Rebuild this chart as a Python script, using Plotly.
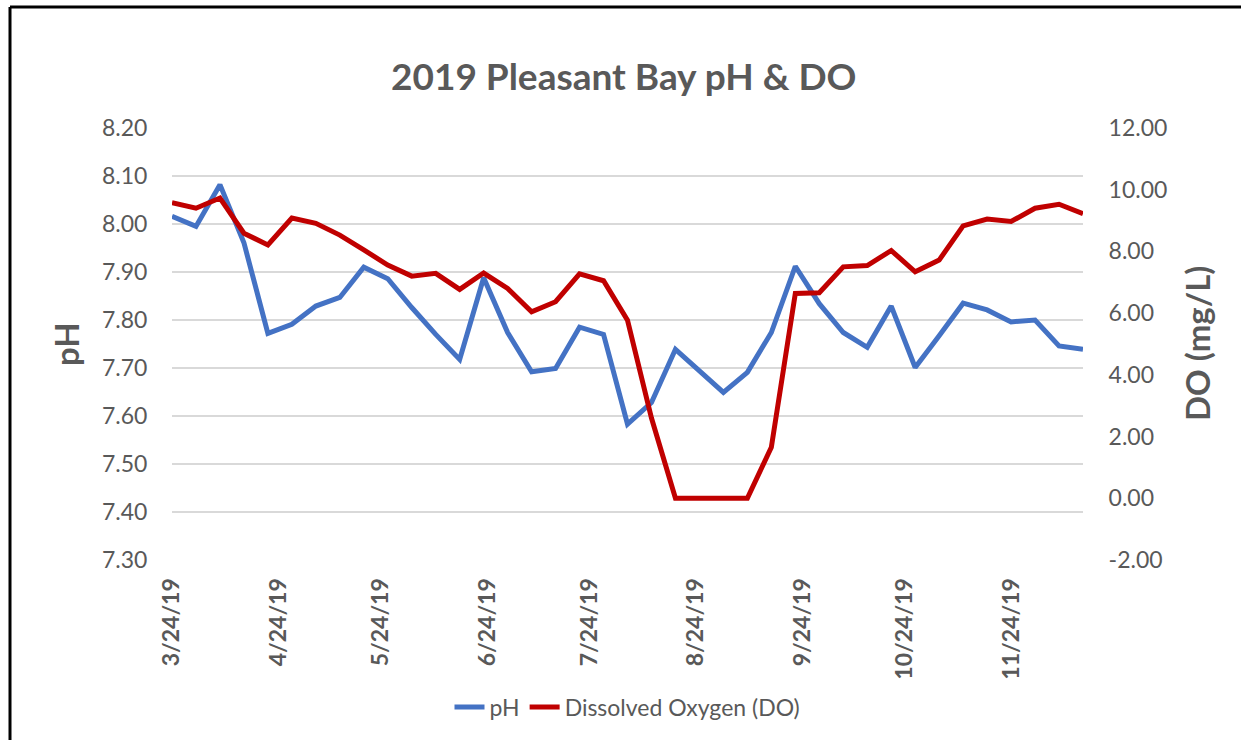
import plotly.graph_objects as go

dates = ["2019-03-24", "2019-03-31", "2019-04-07", "2019-04-14", "2019-04-21", "2019-04-28",
         "2019-05-05", "2019-05-12", "2019-05-19", "2019-05-26", "2019-06-02", "2019-06-09",
         "2019-06-16", "2019-06-23", "2019-06-30", "2019-07-07", "2019-07-14", "2019-07-21",
         "2019-07-28", "2019-08-04", "2019-08-11", "2019-08-18", "2019-08-25", "2019-09-01",
         "2019-09-08", "2019-09-15", "2019-09-22", "2019-09-29", "2019-10-06", "2019-10-13",
         "2019-10-20", "2019-10-27", "2019-11-03", "2019-11-10", "2019-11-17", "2019-11-24",
         "2019-12-01", "2019-12-08", "2019-12-15"]

ph = [8.016, 7.995, 8.082, 7.961, 7.772, 7.791, 7.829, 7.847, 7.910, 7.886, 7.826, 7.770,
      7.718, 7.888, 7.774, 7.692, 7.699, 7.785, 7.770, 7.583, 7.628, 7.739, 7.694, 7.649,
      7.691, 7.774, 7.912, 7.834, 7.774, 7.743, 7.829, 7.701, 7.767, 7.835, 7.821, 7.796,
      7.800, 7.746, 7.739]

do = [9.58, 9.40, 9.73, 8.59, 8.21, 9.08, 8.91, 8.53, 8.05, 7.56, 7.20, 7.29, 6.77, 7.30,
      6.80, 6.04, 6.37, 7.27, 7.05, 5.77, 2.60, 0.0, 0.0, 0.0, 0.0, 1.65, 6.64, 6.66, 7.50,
      7.54, 8.03, 7.34, 7.72, 8.83, 9.05, 8.97, 9.40, 9.53, 9.22]

tick_dates = ["2019-03-24", "2019-04-24", "2019-05-24", "2019-06-24", "2019-07-24",
              "2019-08-24", "2019-09-24", "2019-10-24", "2019-11-24"]
tick_text = ["3/24/19", "4/24/19", "5/24/19", "6/24/19", "7/24/19", "8/24/19",
             "9/24/19", "10/24/19", "11/24/19"]

do_tick_vals = [-2, 0, 2, 4, 6, 8, 10, 12]
do_tick_text = ["-2.00", "0.00", "2.00", "4.00", "6.00", "8.00", "10.00", "12.00"]

FONT = "Lato"
GREY = "#595959"

fig = go.Figure()
fig.add_trace(go.Scatter(x=dates, y=ph, name="pH", mode="lines",
                         line=dict(color="#4472C4", width=5)))
fig.add_trace(go.Scatter(x=dates, y=do, name="Dissolved Oxygen (DO)", mode="lines",
                         line=dict(color="#C00000", width=5), yaxis="y2"))

fig.update_layout(
    width=1241, height=740,
    margin=dict(l=172, r=158, t=128, b=180),
    paper_bgcolor="white", plot_bgcolor="white",
    font=dict(family=FONT, color=GREY),
    showlegend=True,
    legend=dict(orientation="h", x=0.5, xanchor="center", y=(560 - 707) / 432, yanchor="middle",
                font=dict(size=23, color=GREY, family=FONT)),
    xaxis=dict(type="date", range=["2019-03-24", "2019-12-15"],
               tickvals=tick_dates, ticktext=tick_text, tickangle=-90,
               tickfont=dict(size=23, color=GREY, family=FONT, weight="bold"),
               showgrid=False, zeroline=False, showline=False,
               ticks="outside", ticklen=8, tickcolor="rgba(0,0,0,0)"),
    yaxis=dict(range=[7.3, 8.2], dtick=0.1, tickformat=".2f",
               tickfont=dict(size=23, color=GREY),
               showgrid=True, gridcolor="#D9D9D9", gridwidth=2,
               zeroline=False, showline=False,
               ticks="outside", ticklen=19, tickcolor="rgba(0,0,0,0)"),
    yaxis2=dict(range=[-2, 12], tickvals=do_tick_vals, ticktext=do_tick_text,
                overlaying="y", side="right",
                tickfont=dict(size=23, color=GREY),
                showgrid=False, zeroline=False, showline=False,
                ticks="outside", ticklen=20, tickcolor="rgba(0,0,0,0)"),
    annotations=[
        dict(text="<b>2019 Pleasant Bay pH &amp; DO</b>", xref="paper", yref="paper",
             x=(623 - 172) / 911, y=(560 - 76) / 432, xanchor="center", yanchor="middle",
             showarrow=False, font=dict(size=37, color=GREY, family=FONT)),
        dict(text="<b>pH</b>", xref="paper", yref="paper",
             x=(66 - 172) / 911, y=(560 - 344) / 432, xanchor="center", yanchor="middle",
             textangle=-90, showarrow=False, font=dict(size=33, color=GREY, family=FONT)),
        dict(text="<b>DO (mg/L)</b>", xref="paper", yref="paper",
             x=(1197 - 172) / 911, y=(560 - 344) / 432, xanchor="center", yanchor="middle",
             textangle=-90, showarrow=False, font=dict(size=33, color=GREY, family=FONT)),
    ],
    shapes=[
        dict(type="line", xref="paper", yref="paper",
             x0=(10 - 172) / 911, x1=(10 - 172) / 911, y0=(560 - 760) / 432, y1=(560 - 7) / 432,
             line=dict(color="black", width=3)),
        dict(type="line", xref="paper", yref="paper",
             x0=(10 - 172) / 911, x1=(1260 - 172) / 911, y0=(560 - 7) / 432, y1=(560 - 7) / 432,
             line=dict(color="black", width=3)),
    ],
)

fig.write_html("out.html", config={"displayModeBar": False},
               post_script="document.body.style.margin='0';document.body.style.overflow='hidden';")
